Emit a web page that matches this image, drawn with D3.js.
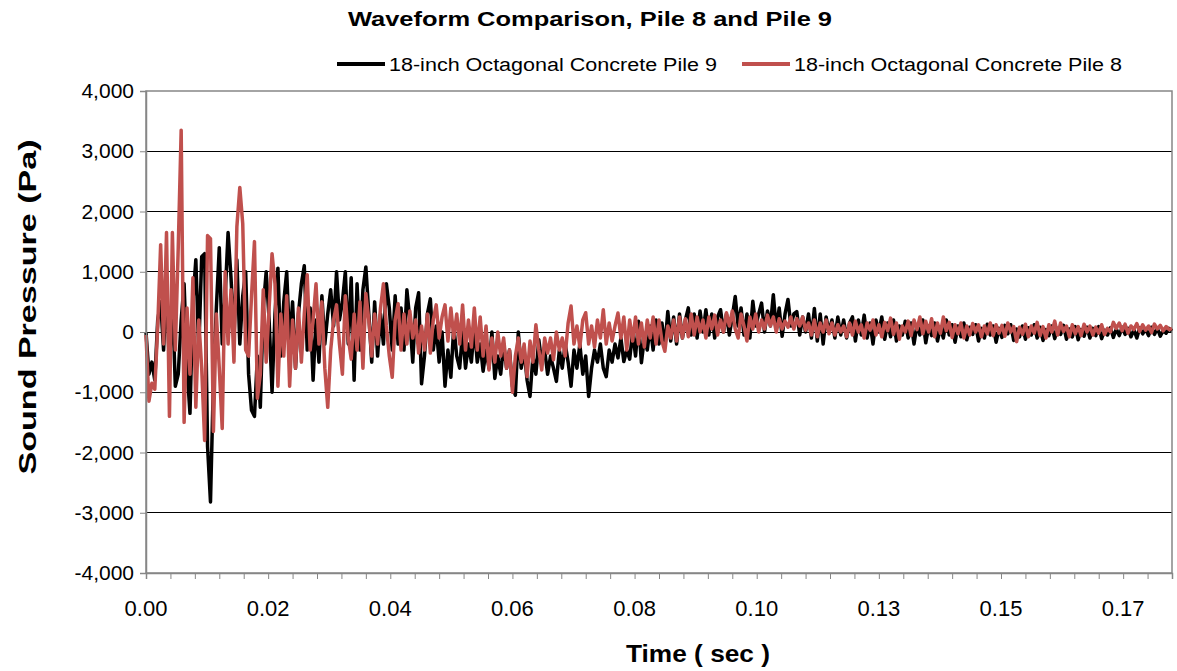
<!DOCTYPE html>
<html><head><meta charset="utf-8">
<script src="https://cdn.jsdelivr.net/npm/d3@7/dist/d3.min.js"></script>
<style>
html,body{margin:0;padding:0;background:#fff;}
text{font-family:"Liberation Sans",Arial,sans-serif;}
</style></head>
<body><svg id="c" width="1177" height="671"></svg>
<script>
// ---- data ----
const sampleInterval = 0.0005; // seconds between samples
const pile9 = [
0,-700,-500,-800,200,500,-300,800,-600,600,
-900,-700,200,800,-600,-1350,500,1200,-300,1250,
1300,-1900,-2820,-800,400,1400,-200,600,1650,900,
-100,1200,-200,600,1000,-700,-1300,-1400,-400,-1250,
400,1000,200,-1000,300,1060,-400,500,1000,-200,
500,-600,300,800,1100,-300,400,-800,200,-500,
600,-200,300,700,100,1000,200,500,1000,-200,
900,-800,800,-300,700,1080,300,-500,500,-400,
300,-200,800,400,-300,600,-200,400,-300,700,
200,-500,400,650,-860,-400,300,550,-300,100,
-500,0,-900,-300,-750,100,-400,-600,0,-600,
-200,-500,100,-500,-200,-650,-300,-600,0,-770,
-400,-700,-200,-600,-300,-900,-1050,0,-600,-300,
-800,-1070,-400,-700,-130,-500,-300,-700,-400,-600,
-820,-300,-600,-200,-500,-900,-300,-600,-200,-700,
-400,-1070,-600,-300,-500,-200,-600,-740,-300,-500,
-200,-430,-100,-490,-300,-450,0,-400,180,-510,
-100,-300,100,-300,200,-200,150,-250,340,-150,
250,-200,300,-100,200,400,-50,300,-100,350,
0,370,-50,300,-100,250,370,0,300,-50,
250,590,100,400,-50,300,-100,510,100,300,
480,0,350,100,620,50,400,-70,300,540,
100,300,340,-50,250,0,300,-100,390,-150,
300,-200,250,0,200,-100,250,-50,200,-100,
150,250,-150,200,-50,280,-100,150,-200,200,
0,250,-120,150,-80,200,-150,100,-50,180,
-100,150,-200,120,-50,200,-180,100,-60,150,
-150,80,-100,200,-50,120,-170,100,-80,150,
-130,80,-40,120,-150,60,-100,130,-50,100,
-170,60,-90,110,-30,120,-140,50,-80,100,
-120,70,-50,120,-100,80,-140,40,-60,100,
-110,60,-40,110,-120,50,-80,90,-130,40,
-70,80,-100,60,-60,90,-110,30,-50,70,
-90,50,-60,80,-40,60,-80,40,-100,70,
-30,50,-60,80,-40,60,-70,30,-20,60,20
];
const pile8 = [
-50,-1150,-850,-950,100,1450,-200,1650,-1400,1650,
-300,1400,3350,-1500,400,-700,900,-1250,200,-600,
-1800,1600,1550,-1650,300,-600,-1600,1000,-200,700,
-500,1750,2400,1800,-300,-400,600,1500,-1100,-700,
700,-500,400,1300,800,-900,300,-400,600,-900,
200,-600,400,-500,300,950,-300,200,800,-200,
500,-600,-1250,-300,200,450,-200,-700,600,-100,
-450,300,-300,500,-600,640,200,-400,300,-200,
400,800,100,-400,-750,200,470,-300,300,-200,
350,-100,200,-350,100,-300,300,-350,200,450,
-100,250,450,-150,400,-100,300,-200,450,-300,
200,-250,400,-300,250,-400,100,-630,-100,-500,
0,-400,-100,-600,-300,-1000,-400,-100,-500,-200,
-740,-150,-500,120,-300,-630,-100,-350,-100,-460,
0,-300,-100,-400,150,430,-200,100,-250,200,
320,-200,100,-250,200,-100,370,-200,150,-150,
100,315,-100,250,-300,200,-150,250,-200,150,
-250,200,-100,250,-200,200,-150,-320,100,-100,
200,-150,250,-100,220,-80,300,-50,250,0,
200,-100,250,50,280,-50,200,0,320,100,
350,50,-100,300,100,-150,250,50,300,0,
200,50,280,100,250,0,220,50,180,80,
250,50,220,100,250,30,150,-50,200,-80,
150,0,200,-30,150,-50,120,0,100,-80,
150,-50,180,0,120,-100,150,30,200,-50,
120,-80,160,20,230,-40,150,-120,100,0,
180,-60,200,40,250,-30,180,0,220,-80,
150,-20,250,20,160,-90,120,-30,150,-100,
100,-50,140,0,120,-80,100,-30,150,-60,
120,-20,110,-70,150,0,90,-160,80,-40,
130,-80,100,-20,160,-60,90,-100,120,0,
180,-50,150,10,100,-80,120,-30,90,-60,
130,0,100,-50,80,-20,120,-40,60,0,
160,60,150,20,130,-20,100,40,140,10,
120,30,100,-10,130,50,110,20,90,40,60
];
const seriesNames = ["18-inch Octagonal Concrete Pile 9","18-inch Octagonal Concrete Pile 8"];
const seriesColors = ["#000000","#C0504D"];
const xTickTimes = [0, 1/48, 2/48, 3/48, 4/48, 5/48, 6/48, 7/48, 8/48];
const xTickLabels = ["0.00","0.02","0.04","0.06","0.08","0.10","0.13","0.15","0.17"];
const yTicks = [-4000,-3000,-2000,-1000,0,1000,2000,3000,4000];
const title = "Waveform Comparison, Pile 8 and Pile 9";
const xTitle = "Time ( sec )";
const yTitle = "Sound Pressure (Pa)";

// ---- chart ----
const svg = d3.select("#c");
const L = 146, R = 1172, T = 91, B = 573;
const x = d3.scaleLinear().domain([0, 0.175]).range([L, R]);
const y = d3.scaleLinear().domain([-4000, 4000]).range([B, T]);

// grid
svg.append("g").selectAll("line").data(yTicks.filter(d => d > -4000 && d < 4000)).join("line")
  .attr("x1", L).attr("x2", R).attr("y1", d => y(d)).attr("y2", d => y(d))
  .attr("stroke", "#000").attr("stroke-width", 1).attr("shape-rendering", "crispEdges");
// plot border
svg.append("rect").attr("x", L).attr("y", T).attr("width", R - L).attr("height", B - T)
  .attr("fill", "none").attr("stroke", "#868686").attr("stroke-width", 1.5);

// series
const line = d3.line().x((d, i) => x(i * sampleInterval)).y(d => y(d));
[pile9, pile8].forEach((s, k) => {
  svg.append("path").datum(s).attr("d", line).attr("fill", "none")
    .attr("stroke", seriesColors[k]).attr("stroke-width", 3.5).attr("stroke-linejoin", "round");
});

// axes
const minor = d3.range(0, 43).map(i => i / 240).filter(t => t <= 0.175);
const xAxis = d3.axisBottom(x).tickValues(minor).tickSize(6).tickFormat("");
const gx = svg.append("g").attr("transform", `translate(0,${B})`).call(xAxis);
gx.select(".domain").attr("stroke", "#868686").attr("stroke-width", 1.5);
gx.selectAll(".tick line").attr("stroke", "#868686");
svg.append("g").selectAll("text").data(xTickTimes).join("text")
  .attr("x", d => x(d)).attr("y", B + 43).attr("text-anchor", "middle")
  .attr("font-size", 22).text((d, i) => xTickLabels[i]);

const yAxis = d3.axisLeft(y).tickValues(yTicks).tickSize(6).tickPadding(6);
const gy = svg.append("g").attr("transform", `translate(${L},0)`).call(yAxis);
gy.select(".domain").attr("stroke", "#868686").attr("stroke-width", 1.5);
gy.selectAll(".tick line").attr("stroke", "#868686");
gy.selectAll(".tick text").attr("font-size", 21).attr("fill", "#000").attr("font-family", "Liberation Sans, Arial, sans-serif")
  .text(d => d < 0 ? "-" + d3.format(",")(-d) : d3.format(",")(d));

// titles
svg.append("text").attr("x", 590).attr("y", 26).attr("text-anchor", "middle")
  .attr("font-size", 20).attr("font-weight", "bold")
  .attr("textLength", 484).attr("lengthAdjust", "spacingAndGlyphs").text(title);
svg.append("text").attr("x", 698).attr("y", 662).attr("text-anchor", "middle")
  .attr("font-size", 23).attr("font-weight", "bold")
  .attr("textLength", 144).attr("lengthAdjust", "spacingAndGlyphs").text(xTitle);
svg.append("text").attr("transform", "translate(36,307) rotate(-90)").attr("text-anchor", "middle")
  .attr("font-size", 24).attr("font-weight", "bold")
  .attr("textLength", 335).attr("lengthAdjust", "spacingAndGlyphs").text(yTitle);

// legend
const legX = [337, 742];
seriesNames.forEach((n, k) => {
  svg.append("line").attr("x1", legX[k]).attr("x2", legX[k] + 48).attr("y1", 64).attr("y2", 64)
    .attr("stroke", seriesColors[k]).attr("stroke-width", 4);
  svg.append("text").attr("x", legX[k] + 52).attr("y", 71).attr("font-size", 18)
    .attr("textLength", 328).attr("lengthAdjust", "spacingAndGlyphs").text(n);
});
</script></body></html>
